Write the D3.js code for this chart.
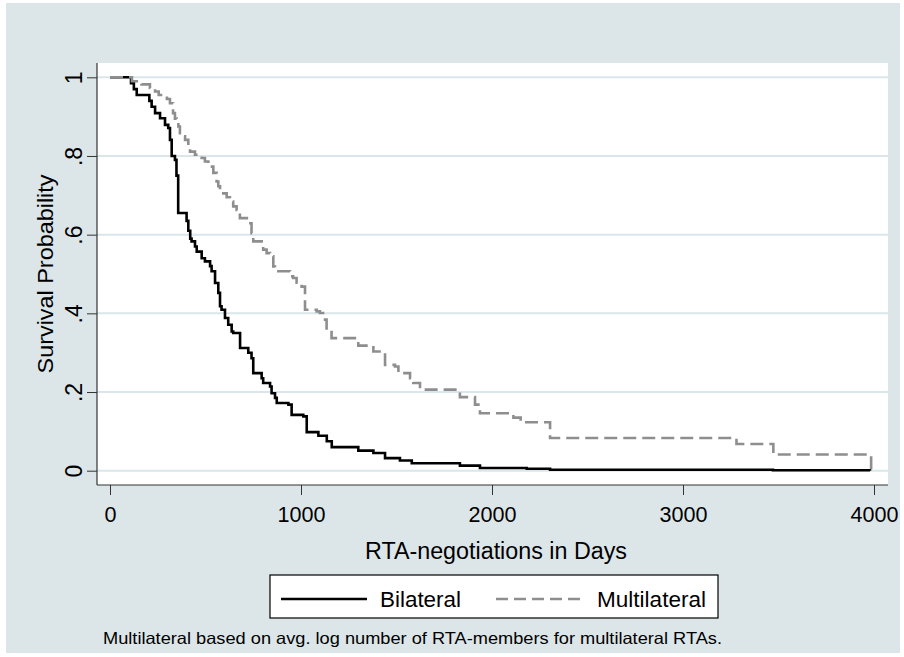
<!DOCTYPE html>
<html>
<head>
<meta charset="utf-8">
<script src="https://cdn.jsdelivr.net/npm/d3@7"></script>
<style>
html,body{margin:0;padding:0;background:#ffffff;}
svg text{font-family:"Liberation Sans",Arial,Helvetica,sans-serif;}
</style>
</head>
<body>
<svg id="chart" width="904" height="657"></svg>
<script>
// ---- data ----
const bilateralTime = [0,110,125,140,206,218,236,262,288,305,314,323,340,348,357,401,410,420,427,445,454,480,497,524,532,550,567,576,584,602,619,637,645,681,724,741,750,794,802,838,846,864,873,934,951,1012,1030,1091,1135,1161,1300,1379,1440,1518,1580,1832,1937,2182,2304,3471,3979];
const bilateralSurv = [1,.985,.97,.955,.94,.925,.909,.896,.879,.871,.841,.80,.79,.75,.655,.635,.61,.59,.583,.57,.557,.540,.532,.52,.507,.477,.452,.418,.409,.388,.371,.354,.350,.312,.30,.286,.248,.235,.223,.214,.197,.185,.172,.168,.142,.138,.098,.089,.075,.060,.051,.045,.032,.026,.019,.013,.007,.005,.0025,.001,0];
const multiTime = [0,115,165,209,236,255,298,314,330,340,349,358,366,375,393,410,419,445,462,480,497,515,524,541,558,567,576,593,611,628,645,663,680,724,741,750,794,802,820,838,855,864,942,959,977,1003,1021,1082,1099,1126,1134,1160,1300,1379,1440,1492,1510,1571,1588,1623,1815,1832,1911,1937,2112,2150,2304,3280,3473,3985];
const multiSurv = [1,.99,.982,.973,.964,.955,.945,.934,.909,.895,.888,.875,.858,.850,.841,.824,.811,.803,.799,.795,.786,.782,.773,.757,.735,.723,.714,.705,.695,.684,.672,.663,.642,.629,.604,.583,.579,.562,.553,.545,.519,.507,.494,.490,.478,.468,.409,.405,.401,.384,.358,.337,.318,.303,.269,.265,.248,.235,.223,.206,.202,.187,.168,.146,.135,.123,.083,.068,.041,0];
const xTicks = [0,1000,2000,3000,4000];
const yTicks = [0,.2,.4,.6,.8,1];
const yTickLabels = ["0",".2",".4",".6",".8","1"];
const seriesNames = ["Bilateral","Multilateral"];
const xTitle = "RTA-negotiations in Days";
const yTitle = "Survival Probability";
const note = "Multilateral based on avg. log number of RTA-members for multilateral RTAs.";

// ---- layout ----
const svg = d3.select("#chart");
const bg = "#dce6e9";
const gridCol = "#dae6ea";
svg.append("rect").attr("x",6).attr("y",3).attr("width",894).attr("height",650).attr("fill",bg);

const plot = {left:97, right:888, top:63, bottom:485};
svg.append("rect").attr("x",plot.left).attr("y",plot.top)
  .attr("width",plot.right-plot.left).attr("height",plot.bottom-plot.top).attr("fill","#ffffff");

const x = d3.scaleLinear().domain([0,4000]).range([110,874]);
const y = d3.scaleLinear().domain([0,1]).range([470.7,77.3]);

// gridlines
svg.append("g").selectAll("line").data(yTicks).join("line")
  .attr("x1",plot.left).attr("x2",plot.right)
  .attr("y1",d=>y(d)).attr("y2",d=>y(d))
  .attr("stroke",gridCol).attr("stroke-width",2);

// x axis
const xAxis = d3.axisBottom(x).tickValues(xTicks).tickSize(10).tickPadding(6).tickFormat(d3.format("d"));
const gx = svg.append("g").attr("transform",`translate(0,${plot.bottom})`).call(xAxis);
gx.select(".domain").remove();
gx.selectAll(".tick line").attr("stroke","#333").attr("stroke-width",1);
gx.selectAll(".tick text").attr("font-size",22.5).attr("fill","#000").attr("dy","0.92em")
  .attr("textLength",d=>String(d).length*12).attr("lengthAdjust","spacingAndGlyphs");
svg.append("line").attr("x1",plot.left).attr("x2",plot.right).attr("y1",plot.bottom).attr("y2",plot.bottom)
  .attr("stroke","#333").attr("stroke-width",1.2);

// y axis
const yAxis = d3.axisLeft(y).tickValues(yTicks).tickSize(10).tickFormat((d,i)=>yTickLabels[i]);
const gy = svg.append("g").attr("transform",`translate(${plot.left},0)`).call(yAxis);
gy.select(".domain").remove();
gy.selectAll(".tick line").attr("stroke","#333").attr("stroke-width",1);
gy.selectAll(".tick text")
  .attr("font-size",23).attr("fill","#000")
  .attr("x",null).attr("dy",null)
  .attr("text-anchor","middle")
  .attr("transform","translate(-15,0) rotate(-90)")
  .attr("y",0);
svg.append("line").attr("x1",plot.left).attr("x2",plot.left).attr("y1",plot.top).attr("y2",plot.bottom)
  .attr("stroke","#333").attr("stroke-width",1.2);

// titles
svg.append("text").attr("x",496).attr("y",559).attr("text-anchor","middle")
  .attr("font-size",23).attr("fill","#000")
  .attr("textLength",262).attr("lengthAdjust","spacingAndGlyphs").text(xTitle);
svg.append("text").attr("transform",`translate(53,${(y(0)+y(1))/2}) rotate(-90)`).attr("text-anchor","middle")
  .attr("font-size",22.5).attr("fill","#000")
  .attr("textLength",199).attr("lengthAdjust","spacingAndGlyphs").text(yTitle);

// curves
const line = d3.line().x(d=>x(d[0])).y(d=>y(d[1])).curve(d3.curveStepAfter);
const bil = bilateralTime.map((t,i)=>[t,bilateralSurv[i]]);
const mul = multiTime.map((t,i)=>[t,multiSurv[i]]);
svg.append("path").datum(bil).attr("d",line).attr("fill","none").attr("stroke","#000").attr("stroke-width",2.6).attr("stroke-linejoin","miter");
svg.append("path").datum(mul).attr("d",line).attr("fill","none").attr("stroke","#8e8e8e").attr("stroke-width",2.6)
  .attr("stroke-dasharray","13,6");

// legend
const lg = svg.append("g");
lg.append("rect").attr("x",270).attr("y",575).attr("width",448).attr("height",43).attr("fill","#fff").attr("stroke","#000").attr("stroke-width",1.2);
lg.append("line").attr("x1",281).attr("x2",367).attr("y1",599).attr("y2",599).attr("stroke","#000").attr("stroke-width",2.6);
lg.append("text").attr("x",380).attr("y",607).attr("font-size",22).attr("fill","#000")
  .attr("textLength",81).attr("lengthAdjust","spacingAndGlyphs").text(seriesNames[0]);
lg.append("line").attr("x1",496).attr("x2",584).attr("y1",599).attr("y2",599).attr("stroke","#8e8e8e").attr("stroke-width",2.6).attr("stroke-dasharray","12,6");
lg.append("text").attr("x",597).attr("y",607).attr("font-size",22).attr("fill","#000")
  .attr("textLength",109).attr("lengthAdjust","spacingAndGlyphs").text(seriesNames[1]);

// note
svg.append("text").attr("x",103).attr("y",644).attr("font-size",16.5).attr("fill","#000")
  .attr("textLength",619).attr("lengthAdjust","spacingAndGlyphs").text(note);
</script>
</body>
</html>
